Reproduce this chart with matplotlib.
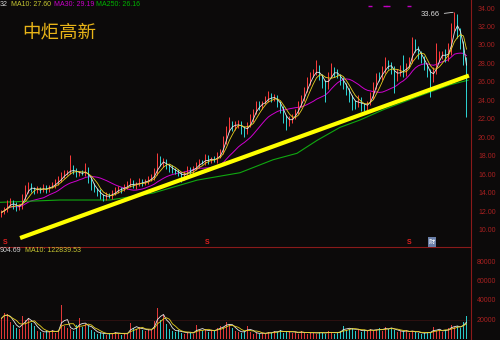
import numpy as np
import pandas as pd
import matplotlib
matplotlib.use('Agg')
import matplotlib.pyplot as plt
from matplotlib.lines import Line2D

plt.rcParams['font.family'] = ['Liberation Sans', 'Noto Sans CJK SC', 'DejaVu Sans']

# ---------------- data ----------------
stock_name = '中炬高新'
open0 = 11.8
close = [
    12.0, 12.4, 12.9, 13.1, 12.8, 12.5, 12.7, 13.6, 14.4, 14.9, 14.6, 14.3, 14.6,
    14.4, 14.7, 14.5, 14.8, 15.0, 15.2, 15.6, 15.9, 16.3, 16.4, 16.7, 16.5, 16.2,
    16.3, 16.2, 16.6, 15.6, 14.9, 14.5, 14.2, 13.8, 13.6, 13.9, 13.8, 14.1, 14.4,
    14.6, 14.5, 14.8, 15.0, 15.2, 14.9, 15.1, 15.3, 15.2, 15.4, 15.6, 15.8, 16.3,
    17.6, 17.3, 17.5, 17.0, 16.8, 16.6, 16.4, 16.2, 15.8, 16.2, 16.6, 16.5, 16.8,
    17.1, 17.5, 17.4, 17.9, 17.6, 17.8, 17.7, 18.1, 18.6, 19.8, 21.0, 21.6, 21.2,
    21.5, 21.7, 21.0, 20.8, 21.4, 22.1, 22.9, 23.7, 23.5, 23.9, 24.2, 24.6, 24.3,
    24.4, 23.9, 23.2, 22.3, 21.8, 22.0, 22.3, 23.0, 23.6, 24.4, 25.2, 26.1, 26.8,
    27.2, 27.5, 26.7, 26.1, 25.6, 26.8, 27.4, 27.1, 26.8, 26.3, 25.8, 25.2, 24.5,
    23.9, 23.7, 24.2, 23.6, 23.4, 23.8, 24.6, 25.6, 26.8, 26.6, 27.3, 28.2, 27.9,
    27.5, 26.6, 27.1, 27.6, 27.1, 27.8, 28.5, 30.3, 29.7, 29.1, 28.6, 27.9, 27.2,
    26.5, 27.3, 28.7, 29.1, 29.2, 28.7, 29.4, 32.1, 33.0, 31.5, 30.2, 28.6, 25.0,
]
wick_up = [
    0.3, 0.2, 0.4, 0.5, 0.2, 0.3, 0.2, 0.4, 0.6, 0.4, 0.3, 0.2, 0.3,
    0.2, 0.4, 0.3, 0.2, 0.3, 0.4, 0.3, 0.5, 0.3, 0.2, 1.5, 0.4, 0.3,
    0.2, 0.3, 0.8, 0.3, 0.2, 0.3, 0.2, 0.3, 0.2, 0.3, 0.2, 0.3, 0.4,
    0.3, 0.2, 0.3, 0.4, 0.5, 0.3, 0.2, 0.4, 0.3, 0.2, 0.3, 0.4, 0.5,
    0.8, 0.5, 0.4, 0.3, 0.2, 0.3, 0.2, 0.3, 0.2, 0.3, 0.4, 0.3, 0.2,
    0.4, 0.3, 0.2, 0.4, 0.3, 0.2, 0.3, 0.4, 0.3, 0.5, 0.4, 0.7, 0.3,
    0.4, 0.3, 0.2, 0.3, 0.4, 0.5, 0.3, 0.4, 0.3, 0.2, 0.4, 0.5, 0.3,
    0.4, 0.3, 0.2, 0.3, 0.2, 0.4, 0.3, 0.2, 0.4, 0.3, 0.4, 0.5, 0.4,
    0.3, 1.0, 0.4, 0.3, 0.2, 0.4, 0.8, 0.3, 0.4, 0.2, 0.3, 0.2, 0.3,
    0.2, 0.3, 0.5, 0.3, 0.2, 0.3, 0.4, 0.5, 0.3, 0.4, 0.5, 0.6, 0.3,
    0.4, 0.3, 0.4, 0.3, 1.4, 0.4, 0.3, 0.7, 0.5, 0.3, 0.4, 0.3, 0.2,
    0.3, 0.4, 1.6, 0.4, 0.3, 0.5, 0.9, 0.4, 0.66, 0.5, 0.4, 0.3, 0.2,
]
wick_dn = [
    0.3, 0.2, 0.3, 0.2, 0.4, 0.3, 0.2, 0.3, 0.2, 0.3, 0.4, 0.3, 0.2,
    0.3, 0.2, 0.4, 0.3, 0.2, 0.3, 0.2, 0.3, 0.2, 0.3, 0.2, 0.3, 0.4,
    0.3, 0.2, 0.3, 0.4, 0.5, 0.3, 0.4, 0.3, 0.4, 0.3, 0.2, 0.3, 0.2,
    0.3, 0.4, 0.2, 0.3, 0.2, 0.3, 0.4, 0.2, 0.3, 0.2, 0.3, 0.2, 0.3,
    0.2, 0.3, 0.4, 0.3, 0.4, 0.3, 0.2, 0.3, 0.5, 0.3, 0.2, 0.3, 0.4,
    0.2, 0.3, 0.2, 0.3, 0.4, 0.3, 0.2, 0.3, 0.2, 0.3, 0.4, 0.3, 0.4,
    0.3, 0.4, 0.5, 0.6, 0.3, 0.2, 0.3, 0.2, 0.4, 0.3, 0.2, 0.3, 0.4,
    0.3, 0.5, 0.4, 0.6, 0.9, 0.4, 0.3, 0.2, 0.3, 0.2, 0.3, 0.2, 0.3,
    0.2, 0.3, 0.4, 0.6, 1.7, 0.3, 0.2, 0.4, 0.3, 0.5, 0.4, 0.5, 0.6,
    0.8, 0.5, 0.3, 0.6, 0.4, 0.3, 0.2, 0.3, 0.2, 0.4, 0.3, 0.2, 0.4,
    0.5, 1.7, 0.4, 0.3, 0.5, 0.3, 0.2, 0.3, 0.4, 0.5, 0.4, 0.5, 0.6,
    2.0, 0.4, 0.3, 0.4, 0.5, 0.4, 0.3, 0.4, 0.5, 0.6, 0.5, 0.7, 2.7,
]
volume_k = [
    22, 28, 26, 18, 15, 12, 11, 24, 20, 22, 17, 14, 9,
    8, 7, 9, 8, 10, 7, 9, 36, 14, 12, 11, 9, 15,
    22, 13, 16, 14, 10, 8, 6, 7, 6, 5, 7, 6, 8,
    6, 5, 7, 6, 17, 12, 11, 13, 10, 9, 11, 10, 19,
    33, 20, 25, 16, 11, 9, 8, 10, 7, 6, 8, 7, 6,
    15, 10, 9, 11, 8, 10, 9, 12, 14, 13, 18, 16, 12,
    9, 8, 7, 9, 14, 8, 6, 7, 6, 7, 6, 8, 7,
    9, 8, 10, 7, 8, 9, 7, 8, 6, 9, 7, 6, 8,
    7, 6, 8, 7, 6, 9, 7, 6, 8, 9, 14, 10, 11,
    12, 9, 11, 8, 10, 9, 11, 9, 10, 12, 9, 13, 11,
    12, 10, 8, 9, 8, 10, 7, 9, 8, 7, 6, 7, 8,
    7, 13, 9, 10, 8, 10, 12, 15, 13, 14, 12, 18, 24,
]
ma250_idx = [-0.5, 19.5, 36.2, 50.5, 65.2, 79.5, 90.5, 98.5, 105.2, 112.8, 119.5, 127.2, 138.5, 149.5, 155.5]
ma250_val = [13.1, 13.35, 13.35, 14.1, 15.5, 16.3, 17.7, 18.4, 19.8, 21.2, 22.0, 23.1, 24.5, 25.8, 26.3]
trend_idx = [6.2, 155.8]
trend_val = [9.24, 26.8]
peak_idx, peak_val = 151, 33.66
event_idx = [123, 128, 129, 136]
price_ticks = [10, 12, 14, 16, 18, 20, 22, 24, 26, 28, 30, 32, 34]
vol_ticks = [20000, 40000, 60000, 80000]
legend_top = [('32', '#d0d0d0'), ('MA10: 27.60', '#c8c832'), ('MA30: 29.19', '#c800c8'), ('MA250: 26.16', '#00b400')]
legend_vol = [('904.69', '#d0d0d0'), ('MA10: 122839.53', '#c8c832')]

# ---------------- figure ----------------
W, H = 500, 340
BG = '#0c0a0a'
AXC = '#8a1a1a'
fig = plt.figure(figsize=(5, 3.4), dpi=100)
fig.patch.set_facecolor(BG)

ax = fig.add_axes([0, 94 / H, 470 / W, 246 / H])
axv = fig.add_axes([0, 0, 470 / W, 93 / H])
for a in (ax, axv):
    a.set_facecolor(BG)
    a.set_xticks([]); a.set_yticks([])
    for s in a.spines.values():
        s.set_visible(False)

n = len(close)
idx = np.arange(n)
c = np.array(close)
o = np.r_[open0, c[:-1]]
up = c >= o
UPC, DNC = '#ff3c3c', '#2ed6d6'
cols = np.where(up, UPC, DNC)
hi = np.maximum(o, c) + np.array(wick_up)
lo = np.minimum(o, c) - np.array(wick_dn)

ax.set_xlim(-0.5, 156.17)
ax.set_ylim(8.378, 34.973)
axv.set_xlim(-0.5, 156.17)
axv.set_ylim(-520, 96100)

# moving averages drawn behind candles partially
cs = pd.Series(c)
ax.plot(idx, cs.rolling(15, min_periods=1).mean(), color='#d000d0', lw=0.7, zorder=2)
ax.plot(ma250_idx, ma250_val, color='#10a810', lw=0.8, zorder=2)

ax.vlines(idx, lo, hi, colors=cols, linewidth=0.7, zorder=3)
ax.bar(idx, np.maximum(np.abs(c - o), 0.06), bottom=np.minimum(o, c), width=0.62,
       color=cols, linewidth=0, zorder=3)

ax.plot(idx, cs.rolling(3, min_periods=1).mean(), color='#e6e6e6', lw=0.6, zorder=4)
ax.plot(idx, cs.rolling(5, min_periods=1).mean(), color='#e8d020', lw=0.6, zorder=4)

ax.plot(trend_idx, trend_val, color='#ffff00', lw=3.0, solid_capstyle='butt', zorder=5)

ax.plot(event_idx, [34.35] * len(event_idx), ls='none', marker='_', ms=3, mew=1, color='#c000c0')

ax.annotate('33.66', xy=(peak_idx, peak_val), xytext=(421, H - 15), textcoords='figure pixels',
            color='#d8d8d8', fontsize=5.5, va='center', ha='left',
            arrowprops=dict(arrowstyle='-', color='#d8d8d8', lw=0.6, shrinkA=1, shrinkB=1))

# volume
v = np.array(volume_k) * 1000.0
vcols = np.where(up, '#e03838', '#28c8c8')
axv.axhline(20000, color='#3a1414', lw=0.5, zorder=0)
axv.bar(idx, v, width=0.62, color=vcols, linewidth=0, zorder=2)
vs = pd.Series(v)
axv.plot(idx, vs.rolling(3, min_periods=1).mean(), color='#e6e6e6', lw=0.6, zorder=3)
axv.plot(idx, vs.rolling(5, min_periods=1).mean(), color='#e8d020', lw=0.6, zorder=3)

# right axis labels
for p in price_ticks:
    ax.text(478 / 470, p, f'{p:.2f}', transform=ax.get_yaxis_transform(), color='#a82020',
            fontsize=5, va='center', ha='left', clip_on=False)
for vt in vol_ticks:
    axv.text(477 / 470, vt, f'{vt}', transform=axv.get_yaxis_transform(), color='#a82020',
             fontsize=5, va='center', ha='left', clip_on=False)

# frame lines
fig.add_artist(Line2D([470.5 / W] * 2, [0, 1], color=AXC, lw=0.8))
fig.add_artist(Line2D([0, 470.5 / W], [1 - 246.5 / H] * 2, color=AXC, lw=0.8))

# legends
xs_top = [0, 11, 54, 96]
for (t, col), x in zip(legend_top, xs_top):
    fig.text(x / W, 1 - 5 / H, t, color=col, fontsize=5, va='center', ha='left')
xs_vol = [0, 25]
for (t, col), x in zip(legend_vol, xs_vol):
    fig.text(x / W, 1 - 251 / H, t, color=col, fontsize=5, va='center', ha='left')

fig.text(22 / W, 1 - 33 / H, stock_name, color='#e8b418', fontsize=13.3,
         family=['Noto Sans CJK SC', 'DejaVu Sans'], va='center', ha='left')

for x in (5, 207, 409):
    fig.text(x / W, 1 - 242 / H, 'S', color='#e02020', fontsize=5, fontweight='bold', va='center', ha='center')
fig.text(432 / W, 1 - 242 / H, '财', color='#ffffff', fontsize=4.5, va='center', ha='center',
         family=['Noto Sans CJK SC', 'DejaVu Sans'],
         bbox=dict(facecolor='#6a7fa8', edgecolor='none', pad=0.6))

fig.savefig('out.png', dpi=100, facecolor=BG)
